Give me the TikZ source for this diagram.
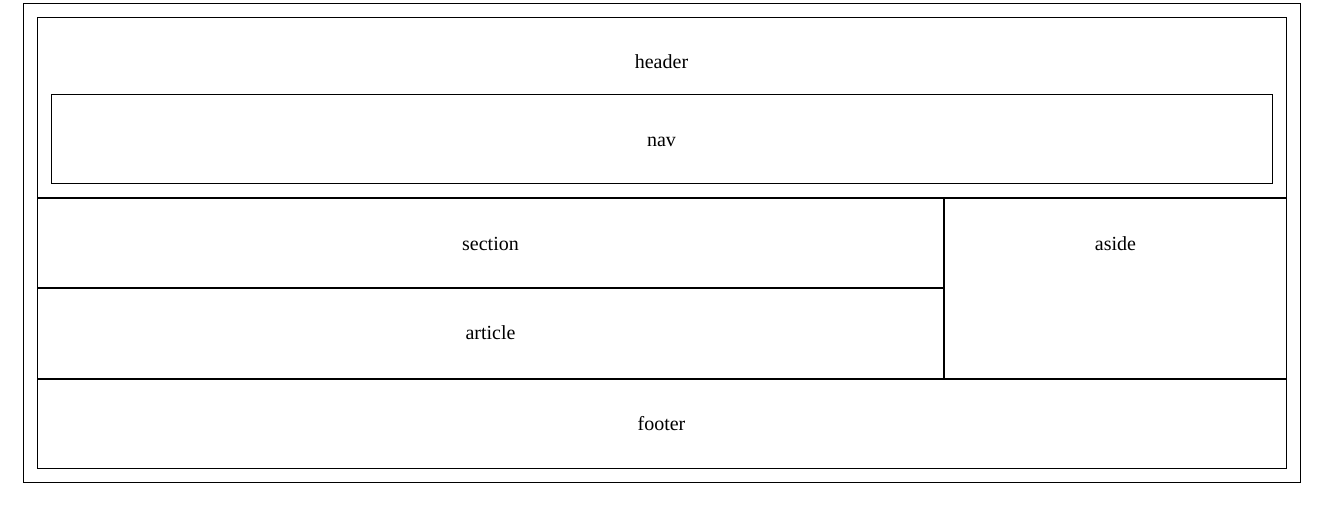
\documentclass[tikz,border=0pt]{standalone}
\usepackage{fontspec}
\setmainfont{Liberation Serif}
\usetikzlibrary{fit}
\begin{document}
\begin{tikzpicture}[x=0.75pt,y=-0.75pt,
  box/.style={draw=black,line width=0.75pt,inner sep=0pt,outer sep=0pt},
  lbl/.style={font=\fontsize{15}{18}\selectfont,inner sep=0pt,anchor=base}]
\useasboundingbox (0,0) rectangle (1336,516);
\node[box,fit={(23.5,3.5) (1300.5,482.5)}] (body) {};
\node[box,fit={(37.5,17.5) (1286.5,197.5)}] (header) {};
\node[box,fit={(51.5,94.5) (1272.5,183.5)}] (nav) {};
\node[box,fit={(37.5,198.5) (943.5,287.5)}] (section) {};
\node[box,fit={(37.5,288.5) (943.5,378.5)}] (article) {};
\node[box,fit={(944.5,198.5) (1286.5,378.5)}] (aside) {};
\node[box,fit={(37.5,379.5) (1286.5,468.5)}] (footer) {};
\node[lbl] (theader) at (661.5,68.5) {header};
\node[lbl] (tnav) at (661.5,146.5) {nav};
\node[lbl] (tsection) at (490.5,250.5) {section};
\node[lbl] (tarticle) at (490.5,340) {article};
\node[lbl] (taside) at (1115.5,250.5) {aside};
\node[lbl] (tfooter) at (661.5,430.5) {footer};
\end{tikzpicture}
\end{document}
